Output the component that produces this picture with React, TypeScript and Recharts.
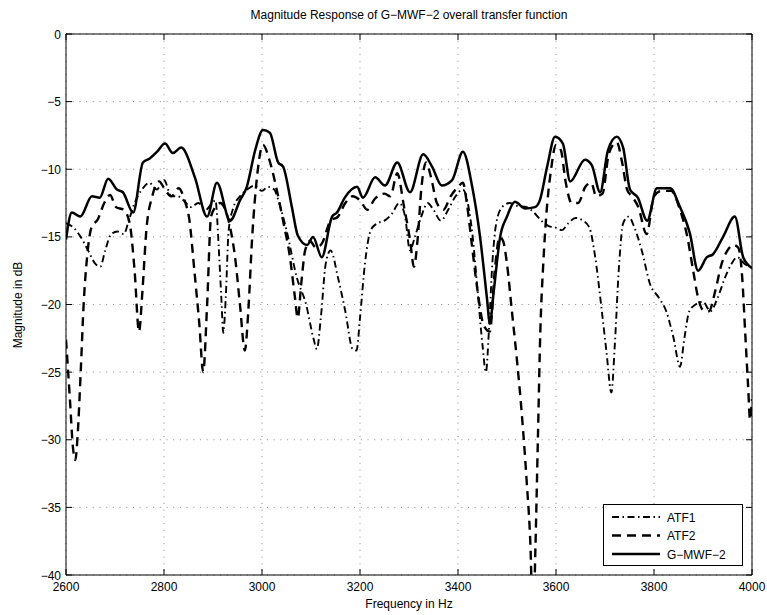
import React from 'react';
import { LineChart, Line, XAxis, YAxis, CartesianGrid, ReferenceArea } from 'recharts';

const W = 767;
const H = 615;
const MARGIN = { top: 34, right: 15, bottom: 10, left: 16 };
const Y_AXIS_W = 50;
const X_AXIS_H = 30;
const PLOT_LEFT = MARGIN.left + Y_AXIS_W;
const PLOT_RIGHT = W - MARGIN.right;
const PLOT_TOP = MARGIN.top;
const PLOT_BOTTOM = H - MARGIN.bottom - X_AXIS_H;
const FONT = '"Liberation Sans", Arial, Helvetica, sans-serif';

const title = 'Magnitude Response of G\u2212MWF\u22122 overall transfer function';
const xLabel = 'Frequency in Hz';
const yLabel = 'Magnitude in dB';
const xTicks = [2600, 2800, 3000, 3200, 3400, 3600, 3800, 4000];
const yTicks = [-40, -35, -30, -25, -20, -15, -10, -5, 0];
const seriesNames = ['ATF1', 'ATF2', 'G\u2212MWF\u22122'];

// G-MWF-2 (solid)
const gmwfFreq = [2600, 2612, 2629, 2653, 2669, 2686, 2704, 2716, 2737, 2757, 2771, 2786, 2802, 2818, 2835, 2863, 2888, 2908, 2935, 2955, 2969, 2986, 3002, 3016, 3033, 3043, 3061, 3073, 3092, 3104, 3122, 3143, 3153, 3169, 3194, 3206, 3231, 3251, 3276, 3302, 3329, 3347, 3367, 3388, 3410, 3429, 3445, 3459, 3465, 3473, 3486, 3500, 3516, 3537, 3557, 3567, 3582, 3598, 3614, 3629, 3659, 3673, 3690, 3706, 3724, 3737, 3751, 3767, 3786, 3806, 3833, 3853, 3873, 3890, 3908, 3920, 3941, 3965, 3982, 4000];
const gmwfDb = [-15.2, -13.2, -13.5, -12.0, -12.1, -10.7, -11.5, -11.7, -13.2, -9.5, -9.2, -8.7, -8.1, -8.8, -8.4, -10.6, -13.5, -11.0, -13.8, -12.3, -11.3, -8.6, -7.1, -7.3, -9.5, -9.8, -12.8, -14.9, -15.6, -15.0, -16.5, -13.5, -13.2, -12.1, -11.3, -12.1, -10.6, -11.2, -9.5, -11.7, -8.9, -9.8, -11.2, -10.8, -8.7, -11.3, -15.0, -19.5, -21.4, -19.0, -15.0, -13.5, -12.4, -12.9, -12.8, -12.3, -9.8, -7.6, -8.1, -10.9, -9.3, -9.7, -11.7, -8.6, -7.6, -8.4, -11.5, -12.1, -13.8, -11.4, -11.4, -12.8, -14.7, -17.5, -16.5, -16.3, -15.0, -13.5, -16.5, -17.3];

// ATF2 (dashed)
const atf2Freq = [2600, 2608, 2614, 2619, 2624, 2630, 2636, 2643, 2652, 2665, 2678, 2690, 2702, 2718, 2730, 2740, 2749, 2756, 2764, 2776, 2790, 2802, 2815, 2830, 2842, 2852, 2862, 2872, 2880, 2888, 2896, 2905, 2915, 2925, 2935, 2945, 2955, 2965, 2972, 2980, 2990, 3002, 3015, 3030, 3043, 3057, 3067, 3073, 3080, 3088, 3098, 3110, 3122, 3140, 3155, 3170, 3185, 3200, 3215, 3230, 3250, 3262, 3276, 3290, 3302, 3310, 3318, 3325, 3335, 3345, 3357, 3370, 3385, 3400, 3410, 3418, 3428, 3440, 3452, 3465, 3475, 3485, 3492, 3500, 3510, 3520, 3530, 3540, 3548, 3553, 3558, 3563, 3568, 3574, 3580, 3590, 3600, 3610, 3620, 3632, 3645, 3660, 3672, 3682, 3695, 3707, 3716, 3724, 3735, 3745, 3755, 3768, 3785, 3800, 3815, 3835, 3853, 3868, 3880, 3890, 3900, 3912, 3925, 3938, 3950, 3962, 3972, 3980, 3986, 3992, 3996, 4000];
const atf2Db = [-22.6, -27.0, -30.5, -31.5, -29.5, -25.0, -20.0, -16.5, -14.3, -13.7, -12.5, -11.9, -12.8, -13.0, -14.0, -17.5, -22.0, -19.0, -14.5, -12.0, -10.9, -11.5, -12.0, -11.4, -12.3, -13.8, -17.5, -21.4, -25.0, -20.0, -13.5, -12.8, -12.5, -13.0, -14.3, -16.5, -20.0, -23.4, -20.5, -15.0, -10.5, -8.2, -9.3, -11.5, -13.8, -16.5, -19.4, -21.0, -18.5, -16.0, -15.3, -15.8, -15.5, -13.8, -13.5, -12.5, -12.0, -12.3, -13.0, -12.2, -11.8, -12.0, -10.3, -12.8, -15.2, -17.2, -15.0, -11.5, -9.5, -10.6, -12.5, -13.0, -12.0, -11.3, -11.0, -12.5, -15.5, -19.0, -21.5, -22.0, -17.5, -15.0, -15.3, -17.0, -20.5, -24.0, -28.0, -33.0, -38.0, -44.0, -38.0, -30.0, -22.0, -17.0, -13.5, -10.0, -8.2, -8.6, -11.0, -12.5, -12.5, -11.3, -11.0, -12.0, -11.8, -9.0, -8.2, -8.0, -9.5, -11.5, -12.0, -12.8, -14.8, -12.0, -11.6, -11.6, -13.0, -15.0, -17.5, -19.5, -20.4, -20.5, -19.0, -17.0, -16.0, -15.6, -15.8, -18.0, -22.0, -26.0, -28.5, -27.0];

// ATF1 (dash-dot)
const atf1Freq = [2600, 2615, 2630, 2645, 2660, 2670, 2680, 2692, 2705, 2718, 2728, 2740, 2755, 2770, 2785, 2800, 2815, 2828, 2840, 2855, 2870, 2885, 2898, 2905, 2912, 2917, 2921, 2926, 2932, 2942, 2955, 2970, 2985, 3000, 3012, 3025, 3035, 3050, 3071, 3090, 3105, 3112, 3120, 3130, 3140, 3155, 3170, 3185, 3193, 3200, 3210, 3222, 3235, 3250, 3265, 3280, 3292, 3302, 3312, 3325, 3338, 3350, 3365, 3380, 3395, 3410, 3420, 3430, 3440, 3450, 3457, 3463, 3470, 3478, 3490, 3505, 3520, 3540, 3555, 3570, 3585, 3598, 3612, 3625, 3640, 3655, 3668, 3680, 3692, 3703, 3713, 3720, 3728, 3737, 3748, 3760, 3775, 3792, 3810, 3825, 3840, 3853, 3862, 3872, 3885, 3900, 3915, 3930, 3945, 3958, 3970, 3985, 4000];
const atf1Db = [-14.0, -14.3, -15.0, -16.0, -17.0, -17.2, -16.0, -14.8, -14.6, -14.8, -13.8, -12.5, -11.5, -11.0, -11.5, -10.8, -12.0, -12.0, -12.3, -12.8, -12.5, -13.0, -12.5, -12.3, -16.0, -19.5, -22.1, -19.5, -14.5, -12.8, -12.0, -11.5, -11.2, -11.6, -11.3, -11.5, -12.5, -14.5, -18.0, -20.0, -22.5, -23.3, -21.0, -17.0, -16.0, -18.0, -20.5, -23.3, -23.4, -21.0, -17.0, -14.5, -14.0, -13.8, -13.3, -12.5, -13.5, -16.0, -15.0, -13.5, -12.5, -13.0, -13.8, -13.0, -12.0, -11.5, -12.5, -15.0, -19.0, -23.0, -25.0, -22.0, -17.0, -14.0, -12.8, -12.5, -12.7, -12.8, -13.2, -13.8, -14.2, -14.3, -14.5, -14.0, -13.6, -13.8, -14.3, -16.5, -20.0, -23.5, -26.5, -23.0, -17.5, -14.0, -13.5, -14.3, -16.0, -18.5, -19.5, -20.5, -22.5, -24.6, -22.5, -20.5, -20.0, -19.8, -20.5, -19.5, -18.0, -17.0, -16.5, -17.0, -17.3];

const toRows = (freq: number[], db: number[]) => freq.map((f, i) => ({ f, db: db[i] }));
const atf1Data = toRows(atf1Freq, atf1Db);
const atf2Data = toRows(atf2Freq, atf2Db);
const gmwfData = toRows(gmwfFreq, gmwfDb);

const STYLES = [
  { width: 1.9, dash: '7 3.5 1.5 3.5' },
  { width: 2.4, dash: '9 6' },
  { width: 2.5, dash: undefined as string | undefined },
];

const fmt = (v: number) => (v < 0 ? '\u2212' + Math.abs(v) : String(v));

const XTick = (props: any) => {
  const { x, payload } = props;
  return (
    <g>
      <line x1={x} x2={x} y1={PLOT_BOTTOM} y2={PLOT_BOTTOM - 6} stroke="#000" strokeWidth={1} />
      <line x1={x} x2={x} y1={PLOT_TOP} y2={PLOT_TOP + 6} stroke="#000" strokeWidth={1} />
      <text x={x} y={PLOT_BOTTOM + 16} textAnchor="middle" fontSize={12} fontFamily={FONT} fill="#000">
        {fmt(payload.value)}
      </text>
    </g>
  );
};

const YTick = (props: any) => {
  const { y, payload } = props;
  return (
    <g>
      <line x1={PLOT_LEFT} x2={PLOT_LEFT + 6} y1={y} y2={y} stroke="#000" strokeWidth={1} />
      <line x1={PLOT_RIGHT} x2={PLOT_RIGHT - 6} y1={y} y2={y} stroke="#000" strokeWidth={1} />
      <text x={PLOT_LEFT - 5} y={y + 4.5} textAnchor="end" fontSize={12} fontFamily={FONT} fill="#000">
        {fmt(payload.value)}
      </text>
    </g>
  );
};

const LegendBox = () => (
  <svg width={141} height={63} style={{ display: 'block' }}>
    <rect x={0.5} y={0.5} width={139} height={61} fill="#fff" stroke="#000" strokeWidth={1} />
    {seriesNames.map((name, i) => {
      const y = 13 + i * 18.5;
      return (
        <g key={name}>
          <line x1={9} x2={57} y1={y} y2={y} stroke="#000" strokeWidth={STYLES[i].width} strokeDasharray={STYLES[i].dash} />
          <text x={64} y={y + 4.5} fontSize={12} fontFamily={FONT} fill="#000">{name}</text>
        </g>
      );
    })}
  </svg>
);

export default function App() {
  return (
    <div style={{ position: 'absolute', left: 0, top: 0, width: W, height: H, background: '#fff', fontFamily: FONT }}>
      <LineChart width={W} height={H} margin={MARGIN}>
        <CartesianGrid stroke="#8a8a8a" strokeDasharray="1 5.7" strokeWidth={1} />
        <XAxis
          type="number"
          dataKey="f"
          domain={[2600, 4000]}
          ticks={xTicks}
          allowDataOverflow
          height={X_AXIS_H}
          axisLine={false}
          tickLine={false}
          tick={XTick}
          interval={0}
        />
        <YAxis
          type="number"
          dataKey="db"
          domain={[-40, 0]}
          ticks={yTicks}
          allowDataOverflow
          width={Y_AXIS_W}
          axisLine={false}
          tickLine={false}
          tick={YTick}
          interval={0}
        />
        <ReferenceArea x1={2600} x2={4000} y1={-40} y2={0} fill="none" fillOpacity={0} stroke="#000" strokeWidth={1} ifOverflow="visible" />
        <Line data={atf1Data} dataKey="db" name={seriesNames[0]} type="monotone" stroke="#000" strokeWidth={STYLES[0].width} strokeDasharray={STYLES[0].dash} dot={false} activeDot={false} isAnimationActive={false} />
        <Line data={atf2Data} dataKey="db" name={seriesNames[1]} type="monotone" stroke="#000" strokeWidth={STYLES[1].width} strokeDasharray={STYLES[1].dash} dot={false} activeDot={false} isAnimationActive={false} />
        <Line data={gmwfData} dataKey="db" name={seriesNames[2]} type="monotone" stroke="#000" strokeWidth={STYLES[2].width} dot={false} activeDot={false} isAnimationActive={false} />
      </LineChart>
      <div style={{ position: 'absolute', left: 603, top: 504 }}>
        <LegendBox />
      </div>
      <div style={{ position: 'absolute', left: PLOT_LEFT, width: PLOT_RIGHT - PLOT_LEFT, top: 8, textAlign: 'center', fontSize: 12, lineHeight: '14px', whiteSpace: 'nowrap' }}>{title}</div>
      <div style={{ position: 'absolute', left: PLOT_LEFT, width: PLOT_RIGHT - PLOT_LEFT, top: 597, textAlign: 'center', fontSize: 12, lineHeight: '14px', whiteSpace: 'nowrap' }}>{xLabel}</div>
      <div style={{ position: 'absolute', left: 18, top: (PLOT_TOP + PLOT_BOTTOM) / 2, width: 0, height: 0 }}>
        <div style={{ position: 'absolute', transform: 'translate(-50%, -50%) rotate(-90deg)', fontSize: 12, lineHeight: '14px', whiteSpace: 'nowrap' }}>{yLabel}</div>
      </div>
    </div>
  );
}
